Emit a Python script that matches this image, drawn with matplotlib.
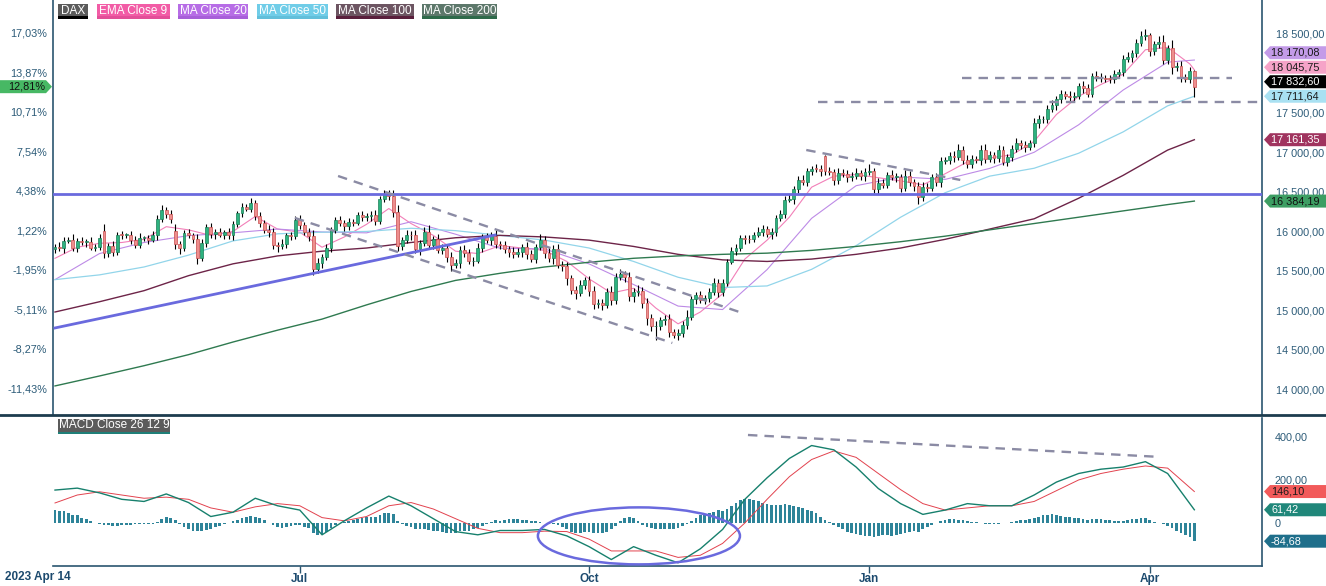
import numpy as np
import matplotlib.pyplot as plt
from matplotlib.patches import Polygon, Ellipse, Rectangle

plt.rcParams['font.family'] = ['Liberation Sans', 'DejaVu Sans']

W, H = 1326, 586

# DAX daily closes, 2023-04-14 .. 2024-04-16 (trading days, index 0..256)
close = [
    15807, 15789, 15882, 15896, 15795, 15882, 15863, 15872, 15796, 15800,
    15922, 15726, 15815, 15734, 15961, 15952, 15955, 15896, 15834, 15914,
    15918, 15897, 15952, 16163, 16275, 16223, 16152, 15842, 15793, 15983,
    15952, 15908, 15664, 15853, 16051, 15963, 15993, 15960, 15989, 15950,
    16097, 16230, 16311, 16290, 16358, 16201, 16111, 16023, 15988, 15830,
    15813, 15846, 15949, 15946, 16148, 16081, 15989, 15938, 15529, 15603,
    15673, 15791, 16024, 16141, 16105, 16068, 16125, 16109, 16204, 16177,
    16190, 16211, 16131, 16407, 16469, 16447, 16240, 15820, 15893, 15952,
    15950, 15775, 15853, 15996, 15832, 15904, 15767, 15789, 15676, 15574,
    15603, 15771, 15729, 15622, 15632, 15792, 15930, 15892, 15947, 15840,
    15825, 15772, 15741, 15719, 15740, 15800, 15715, 15654, 15805, 15893,
    15727, 15664, 15782, 15572, 15557, 15405, 15256, 15217, 15323, 15387,
    15247, 15085, 15099, 15070, 15229, 15128, 15423, 15460, 15425, 15187,
    15237, 15251, 15095, 14910, 14798, 14800, 14879, 14892, 14731, 14688,
    14716, 14810, 14923, 15144, 15189, 15136, 15152, 15229, 15353, 15234,
    15346, 15615, 15748, 15786, 15919, 15902, 15900, 15958, 15994, 16029,
    15967, 15993, 16166, 16215, 16398, 16405, 16533, 16656, 16629, 16759,
    16794, 16791, 16766, 16766, 16751, 16650, 16744, 16733, 16687, 16706,
    16742, 16701, 16752, 16769, 16538, 16617, 16594, 16716, 16689, 16689,
    16547, 16705, 16622, 16572, 16432, 16568, 16555, 16683, 16627, 16890,
    16907, 16961, 16942, 17037, 16904, 16859, 16918, 16904, 17033, 16922,
    16963, 16927, 17037, 16880, 16946, 17047, 17117, 17092, 17068, 17118,
    17370, 17419, 17424, 17556, 17601, 17678, 17735, 17716, 17698, 17717,
    17842, 17815, 17746, 17965, 17961, 17942, 17936, 17933, 17987, 18015,
    18180, 18206, 18261, 18384, 18477, 18492, 18283, 18367, 18403, 18175,
    18318, 18077, 18097, 17954, 17930, 18026, 17832.60,
]
first_open = 15780
open_gap = {11: 16010, 27: 16010, 173: 16950}

# wick lengths beyond the body (points)
wick_up = [
    40, 60, 50, 30, 70, 40, 50, 30, 60, 40, 50, 90, 40, 70, 30, 40, 30, 50, 40, 60,
    30, 40, 50, 40, 60, 30, 50, 80, 40, 40, 50, 30, 60, 50, 40, 60, 40, 50, 30, 50,
    40, 30, 50, 40, 70, 40, 50, 40, 60, 50, 40, 60, 30, 40, 50, 60, 40, 50, 80, 60,
    40, 50, 30, 40, 60, 40, 50, 30, 40, 60, 40, 50, 60, 40, 50, 60, 80, 90, 40, 60,
    50, 70, 40, 60, 80, 40, 60, 50, 40, 60, 50, 40, 60, 50, 40, 60, 40, 50, 50, 70,
    40, 50, 40, 60, 50, 40, 60, 50, 40, 70, 50, 80, 40, 60, 50, 60, 40, 50, 60, 40,
    50, 60, 40, 50, 60, 80, 50, 70, 40, 60, 50, 70, 40, 60, 50, 60, 40, 50, 60, 40,
    50, 60, 80, 40, 50, 60, 40, 50, 60, 40, 50, 40, 60, 50, 40, 30, 50, 40, 60, 50,
    40, 50, 40, 60, 50, 70, 40, 50, 60, 50, 40, 60, 50, 15, 50, 40, 60, 50, 40, 50,
    60, 40, 50, 80, 40, 60, 50, 40, 60, 50, 40, 70, 60, 40, 50, 60, 50, 40, 60, 50,
    40, 50, 60, 70, 40, 60, 50, 40, 60, 70, 50, 40, 60, 50, 40, 50, 60, 40, 50, 40,
    60, 50, 40, 50, 60, 40, 50, 40, 60, 50, 40, 60, 50, 40, 60, 50, 40, 50, 60, 40,
    50, 60, 40, 50, 60, 75, 20, 50, 70, 90, 40, 110, 50, 60, 40, 50, 20,
]
wick_dn = [
    50, 40, 60, 30, 40, 50, 40, 60, 30, 50, 40, 60, 50, 40, 30, 50, 40, 60, 50, 40,
    40, 50, 30, 60, 40, 50, 40, 60, 80, 40, 30, 60, 70, 40, 50, 40, 60, 30, 50, 40,
    60, 40, 50, 30, 40, 60, 50, 40, 60, 50, 70, 40, 50, 60, 40, 50, 40, 60, 80, 50,
    60, 40, 50, 40, 30, 60, 50, 40, 30, 50, 40, 60, 50, 40, 30, 50, 60, 70, 50, 40,
    60, 50, 70, 40, 50, 60, 40, 50, 60, 70, 40, 60, 50, 40, 60, 30, 50, 40, 60, 50,
    50, 40, 60, 50, 40, 60, 70, 40, 50, 40, 60, 50, 70, 40, 60, 80, 50, 70, 40, 50,
    60, 70, 50, 60, 40, 60, 50, 40, 60, 70, 80, 50, 60, 90, 60, 170, 50, 60, 70, 40,
    60, 50, 40, 50, 60, 40, 60, 50, 40, 60, 50, 40, 30, 50, 40, 60, 50, 40, 30, 50,
    40, 60, 50, 40, 50, 30, 60, 50, 40, 60, 50, 40, 60, 50, 40, 60, 50, 40, 60, 50,
    40, 50, 60, 40, 50, 60, 40, 50, 40, 60, 50, 40, 50, 60, 90, 50, 60, 40, 50, 60,
    40, 50, 60, 40, 50, 60, 50, 40, 60, 50, 40, 60, 50, 40, 50, 60, 40, 50, 60, 40,
    50, 60, 40, 50, 40, 60, 50, 40, 60, 50, 40, 60, 50, 40, 60, 50, 40, 60, 50, 40,
    50, 40, 60, 50, 40, 50, 60, 50, 40, 50, 60, 80, 50, 60, 40, 50, 130,
]

# moving averages
ema9_x = list(range(0, 256, 5)) + [256]
ema9 = [15660, 15800, 15850, 15860, 15900, 16060, 16020, 15950, 16000, 16190,
        16030, 15990, 15800, 15930, 16090, 16290, 16100, 15950, 15750, 15720,
        15820, 15790, 15760, 15620, 15400, 15220, 15280, 15030, 14830, 14980,
        15210, 15650, 15890, 16180, 16560, 16700, 16720, 16680, 16640, 16590,
        16730, 16880, 16930, 16970, 17140, 17480, 17710, 17860, 17990, 18300,
        18330, 18120, 18045.75]
ma_x = list(range(0, 251, 10)) + [256]
ma20 = [15390, 15720, 15860, 15947, 15983, 16030, 15993, 15982, 16123, 15965,
        15787, 15779, 15589, 15328, 15055, 15011, 15517, 16166, 16579, 16690,
        16659, 16798, 17002, 17350, 17790, 18143, 18170.08]
ma50 = [15390, 15450, 15550, 15700, 15880, 15970, 15990, 16000, 16040, 16010,
        15950, 15890, 15790, 15620, 15420, 15290, 15310, 15520, 15820, 16180,
        16490, 16700, 16800, 16990, 17260, 17590, 17711.64]
ma100 = [14980, 15110, 15250, 15440, 15590, 15690, 15750, 15790, 15860, 15920,
         15950, 15930, 15890, 15810, 15710, 15640, 15620, 15650, 15710, 15790,
         15900, 16030, 16160, 16420, 16710, 17030, 17161.35]
ma200 = [14044, 14170, 14300, 14440, 14600, 14750, 14890, 15070, 15240, 15380,
         15470, 15550, 15610, 15660, 15690, 15710, 15725, 15760, 15810, 15870,
         15940, 16020, 16100, 16180, 16260, 16340, 16384.19]

# MACD 26 12 9
macd_x = list(range(0, 251, 5)) + [256]
macd = [153, 162, 140, 110, 100, 135, 95, 30, 50, 115, 80, 60, -55, 10, 70, 125,
        80, 20, -40, -55, -35, -35, -30, -60, -110, -170, -110, -150, -185, -120,
        -30, 110, 210, 300, 360, 340, 260, 160, 90, 40, 60, 90, 80, 80, 130, 190,
        230, 250, 260, 285, 230, 61.42]
signal = [93, 130, 145, 130, 115, 120, 110, 70, 50, 75, 90, 80, 25, 10, 30, 80,
          95, 65, 20, -25, -45, -45, -38, -40, -75, -130, -130, -130, -160, -150,
          -95, 0, 110, 215, 295, 335, 305, 230, 155, 90, 60, 70, 80, 80, 100, 150,
          200, 230, 250, 265, 255, 146.10]
hist = [
    60, 58, 55, 45, 38, 35, 25, 18, 10, 2, -5, -8, -10,
    -12, -15, -10, -8, -8, -6, -6, -5, -5, -3, 5,
    20, 28, 25, 12, -5, -20, -30, -35, -37,
    -38, -32, -28, -20, -12, -5, 0, 8, 15, 22, 28, 32,
    30, 22, 12, 0, -10, -18, -22, -20, -15, -8,
    -10, -18, -25, -45, -55, -52, -40, -25, -10, 0, 5,
    10, 15, 18, 25, 28, 30, 28, 35, 45, 48, 40,
    10, -5, -12, -18, -28, -30, -28, -32, -35, -38, -40, -45, -48, -45,
    -38, -35, -35, -30, -25, -15, -5, 5, 12, 10,
    15, 18, 20, 18, 15, 12, 10, 8, 5, 0, -3, -5, -10, -20,
    -30, -42, -48, -45, -40, -42, -45, -47, -45, -40, -30, -15, 10, 25, 28,
    25, 10, -10, -20, -25, -28, -30, -28, -30, -30, -25, -15, -5, 10, 25,
    35, 40, 45, 50, 60, 55, 65, 80, 95, 105, 110, 112, 108, 100, 95, 90,
    85, 82, 85, 90, 85, 80, 75, 70, 60, 55, 45, 30, 15, 5, -10, -20,
    -30, -40, -45, -50, -55, -60, -62, -65, -60, -58, -55, -60, -55, -50, -45, -40, -38, -40, -30,
    -20, -10, 0, 10, 15, 20, 18, 15, 12, 10, 5, 3, 0, -3, -5, -5, -3,
    0, 2, 5, 10, 12, 15, 20, 25, 30, 35, 38, 40, 35, 32, 30, 28, 25, 22,
    20, 15, 18, 20, 18, 15, 12, 10, 8, 10, 15, 18, 20, 22, 25,
    15, 5, 0, -5, -15, -25, -35, -45, -55, -65, -84.68,
]

month_idx = [55, 120, 183, 246]
month_lbl = ['Jul', 'Oct', 'Jan', 'Apr']
price_ticks = [14000, 14500, 15000, 15500, 16000, 16500, 17000, 17500, 18000, 18500]
hidden_price_labels = [18000]   # covered by the value tags in the original
macd_ticks = [0, 200, 400]
base_close = 15807.5

# drawn analysis lines
support_level = 16480
trend_line = ([0, 98.9], [14778, 15955])
dash_lines = [
    ([63.6, 154.4], [16702, 14968]),
    ([53.9, 138.7], [16171, 14588]),
    ([168.8, 203.4], [17031, 16652]),
    ([203.8, 264.5], [17943, 17943]),
    ([171.5, 272.0], [17639, 17639]),
]
macd_dash = ([155.7, 248.3], [409, 307])


def fmt_price(v):
    return f"{v:,.2f}".replace(',', ' ').replace('.', ',')


fig = plt.figure(figsize=(W / 100, H / 100), dpi=100)
fig.patch.set_facecolor('white')
ax = fig.add_axes([53 / W, 1 - 415 / H, (1262 - 53) / W, 415 / H])
ax2 = fig.add_axes([53 / W, 1 - 566 / H, (1262 - 53) / W, (566 - 418) / H])

axis_col = '#2a5570'
label_col = '#2c5b78'
fs = 7.8

# ---- candles
opens = [first_open] + close[:-1]
for k, v in open_gap.items():
    opens[k] = v
n = len(close)
idx = np.arange(n)
o = np.array(opens, float)
c = np.array(close, float)
top = np.maximum(o, c)
bot = np.minimum(o, c)
hi = top + np.array(wick_up)
lo = bot - np.array(wick_dn)
up = c >= o

ax.plot(ema9_x, ema9, color='#f27fb8', lw=0.8, zorder=2)
ax.plot(ma_x, ma20, color='#bd8ae6', lw=0.8, zorder=2)
ax.plot(ma_x, ma50, color='#92d5ea', lw=0.9, zorder=2)
ax.plot(ma_x, ma100, color='#6d2448', lw=1.0, zorder=2)
ax.plot(ma_x, ma200, color='#2f7a50', lw=1.0, zorder=2)

ax.vlines(idx, lo, hi, color='black', lw=0.8, zorder=3)
body_h = np.maximum(top - bot, 10)
ax.bar(idx[up], body_h[up], bottom=bot[up], width=0.64, color='#2db27f',
       edgecolor='#1c7f57', lw=0.5, zorder=4)
ax.bar(idx[~up], body_h[~up], bottom=bot[~up], width=0.64, color='#ee8e8e',
       edgecolor='#c9504f', lw=0.5, zorder=4)

ax.axhline(support_level, color='#6a6ade', lw=2, zorder=5)
ax.plot(*trend_line, color='#6a6ade', lw=2, zorder=5)
for xs, ys in dash_lines:
    ax.plot(xs, ys, color='#8b8ba4', lw=1.7, ls=(0, (4, 3)), zorder=5)

ax.set_xlim(-0.45, 271.2)
ax.set_ylim(13676, 18930)
ax.set_xticks([])
ax.yaxis.tick_right()
ax.set_yticks(price_ticks)
ax.set_yticklabels(['' if p in hidden_price_labels else fmt_price(p) for p in price_ticks])
ax.tick_params(axis='y', length=0, pad=10, labelsize=fs, labelcolor=label_col)
for p in price_ticks:
    pct = (p / base_close - 1) * 100
    ax.text(-0.005, p, f"{pct:.2f}%".replace('.', ','), transform=ax.get_yaxis_transform(),
            ha='right', va='center', fontsize=fs, color=label_col)
for s in ['top', 'bottom']:
    ax.spines[s].set_visible(False)
for s in ['left', 'right']:
    ax.spines[s].set_color(axis_col)
    ax.spines[s].set_linewidth(1.2)

# ---- MACD panel
ax2.bar(idx[:len(hist)], hist, width=0.62, color='#2e8499', zorder=2)
ax2.plot(macd_x, signal, color='#e2424e', lw=0.7, zorder=3)
ax2.plot(macd_x, macd, color='#17806d', lw=1.0, zorder=3)
ax2.plot(*macd_dash, color='#8b8ba4', lw=1.7, ls=(0, (4, 3)), zorder=4)
ax2.add_patch(Ellipse((131.2, -60), 45.4, 265, fill=False, ec='#6a6ade', lw=1.8, zorder=5))
ax2.set_xlim(-0.45, 271.2)
ax2.set_ylim(-200, 488)
ax2.yaxis.tick_right()
ax2.set_yticks(macd_ticks)
ax2.set_yticklabels(['0', '200,00', '400,00'])
ax2.tick_params(axis='y', length=0, pad=9, labelsize=fs, labelcolor=label_col)
ax2.set_xticks(month_idx)
ax2.set_xticklabels(month_lbl, fontweight='bold', fontsize=8.5, color='#1c4a6e')
ax2.tick_params(axis='x', length=5, width=1, color=axis_col, pad=0)
for s in ['top', 'left']:
    ax2.spines[s].set_visible(False)
for s in ['right', 'bottom']:
    ax2.spines[s].set_color(axis_col)
    ax2.spines[s].set_linewidth(1.2)

fig.text(5 / W, 1 - 577 / H, '2023 Apr 14', fontweight='bold', fontsize=8.5,
         color='#1c4a6e', va='center', ha='left')

# separator between panels
fig.add_artist(plt.Line2D([0, 1], [1 - 415 / H, 1 - 415 / H], transform=fig.transFigure,
                          color='#1d3c4e', lw=2))


# ---- legend boxes
def label_box(x0, x1, y0, y1, text, bg, under):
    fig.add_artist(Rectangle((x0 / W, 1 - y1 / H), (x1 - x0) / W, (y1 - y0) / H,
                             transform=fig.transFigure, color=bg, lw=0))
    fig.add_artist(Rectangle((x0 / W, 1 - (y1 + 1.5) / H), (x1 - x0) / W, 2 / H,
                             transform=fig.transFigure, color=under, lw=0))
    fig.text((x0 + x1) / 2 / W, 1 - (y0 + y1) / 2 / H, text, color='white',
             fontsize=8.5, ha='center', va='center')


legend = [
    (58, 88, 'DAX', '#5b5b5b', '#000000'),
    (97, 170, 'EMA Close 9', '#f25ca6', '#e24f98'),
    (178, 248, 'MA Close 20', '#b76de6', '#a75fd8'),
    (257, 328, 'MA Close 50', '#70cde8', '#62bfda'),
    (336, 414, 'MA Close 100', '#6d5562', '#5a1f3c'),
    (422, 497, 'MA Close 200', '#5d786b', '#2e6a4a'),
]
for x0, x1, t, bg, un in legend:
    label_box(x0, x1, 4, 17, t, bg, un)
label_box(58, 170, 419, 432, 'MACD Close 26 12 9', '#5b5b5b', '#1f7f78')

# ---- value tags
fig.canvas.draw()


def y_pix(a, v):
    return H - a.transData.transform((0, v))[1]


def stack(items, gap=14.5):
    items = sorted(items, key=lambda t: -t[0])
    out = []
    last = None
    for y, rest in items:
        if last is not None:
            y = min(y, last - gap)
        out.append((y, rest))
        last = y
    return out


def right_tag(y, text, bg, fg):
    h = 6.5
    pts = [(1264, y), (1270, y - h), (W, y - h), (W, y + h), (1270, y + h)]
    fig.add_artist(Polygon([(px / W, 1 - py / H) for px, py in pts], closed=True,
                           transform=fig.transFigure, fc=bg, ec='none'))
    fig.text(1271 / W, 1 - y / H, text, color=fg, fontsize=fs, ha='left', va='center')


main_tags = [
    (ma20[-1], '#c39be8', '#1a1a1a'),
    (ema9[-1], '#f6a3c8', '#1a1a1a'),
    (close[-1], '#000000', '#ffffff'),
    (ma50[-1], '#a9e1f2', '#1a1a1a'),
    (ma100[-1], '#a0345f', '#ffffff'),
    (ma200[-1], '#3d9e63', '#111111'),
]
for y, (v, bg, fg) in stack([(y_pix(ax, t[0]), t) for t in main_tags]):
    right_tag(y, fmt_price(v), bg, fg)

macd_tags = [
    (signal[-1], '#f25a5a', '#1a1a1a'),
    (macd[-1], '#20877a', '#ffffff'),
    (hist[-1], '#1f6f8b', '#ffffff'),
]
for y, (v, bg, fg) in stack([(y_pix(ax2, t[0]), t) for t in macd_tags]):
    right_tag(y, f"{v:.2f}".replace('.', ','), bg, fg)

# left percent tag of last close
yl = y_pix(ax, close[-1])
pts = [(0, yl - 6.5), (46, yl - 6.5), (52, yl), (46, yl + 6.5), (0, yl + 6.5)]
fig.add_artist(Polygon([(px / W, 1 - py / H) for px, py in pts], closed=True,
                       transform=fig.transFigure, fc='#47b864', ec='none'))
fig.text(45 / W, 1 - yl / H, f"{(close[-1] / base_close - 1) * 100:.2f}%".replace('.', ','),
         color='#111111', fontsize=fs, ha='right', va='center')

fig.savefig('out.png', dpi=100)
